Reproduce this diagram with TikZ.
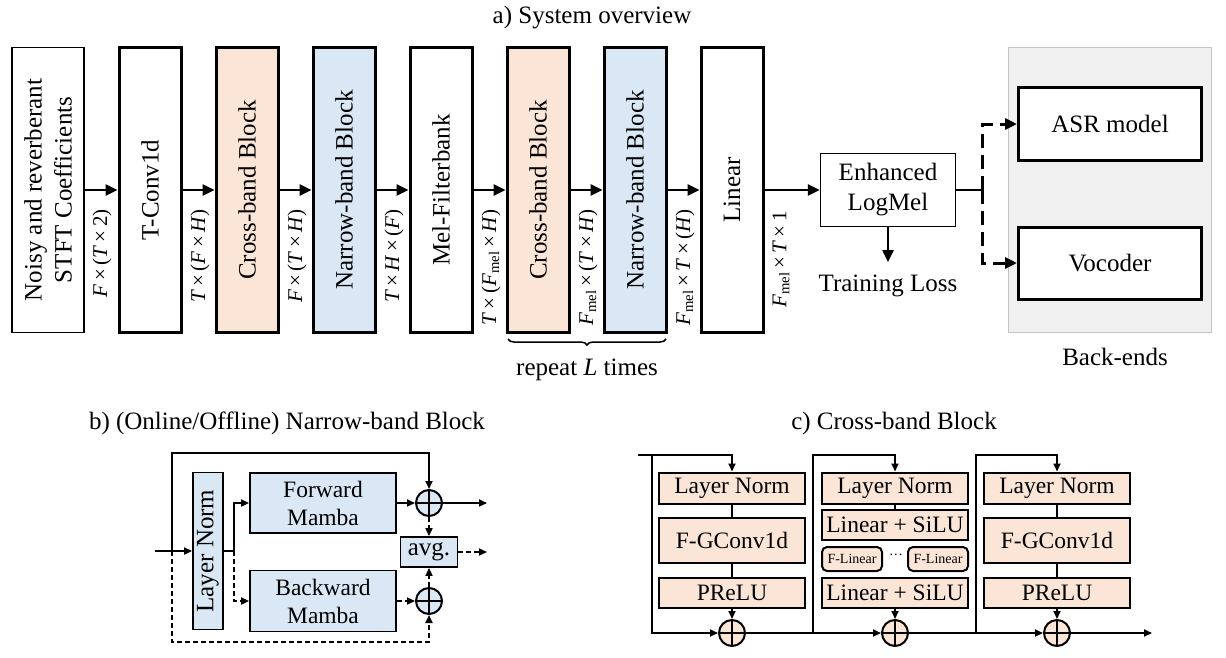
\documentclass[tikz,border=0pt]{standalone}
\usepackage{fontspec}
\setmainfont{Liberation Serif}
\usetikzlibrary{arrows.meta,decorations.pathreplacing}
\definecolor{peach}{HTML}{FBE5D6}
\definecolor{paleblue}{HTML}{DAE8F5}
\definecolor{backgray}{HTML}{F0F0F0}
\definecolor{edgegray}{HTML}{C4C4C4}
\newcommand{\mainsz}{\fontsize{25}{30}\selectfont}
\newcommand{\dimsz}{\fontsize{21}{25}\selectfont}
\newcommand{\blocksz}{\fontsize{23.5}{28}\selectfont}
\newcommand{\smallsz}{\fontsize{14}{16}\selectfont}
\newcommand{\Fmel}{\textit{F}\textsubscript{mel}}
\tikzset{
  stage/.style={draw, line width=3pt, rotate=90, minimum width=285pt,
    minimum height=62pt, inner sep=0pt, font=\mainsz},
  dimlabel/.style={rotate=90, anchor=east, inner sep=0pt, font=\dimsz},
  flow/.style={line width=2.5pt, -{Triangle[length=12pt,width=11pt]}},
  link/.style={line width=1.8pt, -{Triangle[length=8pt,width=7pt]}},
  bbox/.style={draw, line width=1.8pt, fill=paleblue, inner sep=0pt,
    align=center, font=\blocksz},
  cbox/.style={draw, line width=2pt, fill=peach, inner sep=0pt,
    minimum width=146pt, font=\blocksz},
  adder/.style={circle, draw, line width=2pt, minimum size=26pt, inner sep=0pt,
    path picture={\draw[line width=1.8pt]
      (path picture bounding box.north) -- (path picture bounding box.south)
      (path picture bounding box.west) -- (path picture bounding box.east);}},
  dashy/.style={dash pattern=on 5pt off 3pt},
}
\begin{document}
\begin{tikzpicture}[x=1pt,y=-1pt]
  \useasboundingbox (0,0) rectangle (1226,657);

  \node[font=\mainsz] (titlea) at (592,18) {a) System overview};
  \node[stage, line width=1.5pt, minimum height=72pt, align=center] (input) at (48,190)
    {Noisy and reverberant\\STFT Coefficients};
  \node[stage] (tconv) at (150,190) {T-Conv1d};
  \node[stage, fill=peach] (cross1) at (247,190) {Cross-band Block};
  \node[stage, fill=paleblue] (narrow1) at (344,190) {Narrow-band Block};
  \node[stage] (melfb) at (441,190) {Mel-Filterbank};
  \node[stage, fill=peach] (cross2) at (538,190) {Cross-band Block};
  \node[stage, fill=paleblue] (narrow2) at (635,190) {Narrow-band Block};
  \node[stage] (linear) at (732,190) {Linear};

  \node[dimlabel] (dim1) at (102,209) {\textit{F}\,×\,(\textit{T}\,×\,2)};
  \node[dimlabel] (dim2) at (200,209) {\textit{T}\,×\,(\textit{F}\,×\,\textit{H})};
  \node[dimlabel] (dim3) at (297,209) {\textit{F}\,×\,(\textit{T}\,×\,\textit{H})};
  \node[dimlabel] (dim4) at (394,209) {\textit{T}\,×\,\textit{H}\,×\,(\textit{F})};
  \node[dimlabel] (dim5) at (491,209) {\textit{T}\,×\,(\Fmel\,×\,\textit{H})};
  \node[dimlabel] (dim6) at (588,209) {\Fmel\,×\,(\textit{T}\,×\,\textit{H})};
  \node[dimlabel] (dim7) at (685,209) {\Fmel\,×\,\textit{T}\,×\,(\textit{H})};
  \node[dimlabel] (dim8) at (781,211) {\Fmel\,×\,\textit{T}\,×\,1};

  \node[draw, line width=1.5pt, minimum width=135pt, minimum height=73pt, inner sep=0pt,
    align=center, font=\mainsz] (logmel) at (888,190) {Enhanced\\LogMel};
  \node[font=\mainsz, anchor=north, inner sep=0pt] (loss) at (888,275) {Training Loss};

  \node[draw=edgegray, fill=backgray, line width=1.5pt, minimum width=203pt,
    minimum height=285pt] (backends) at (1110,190) {};
  \node[font=\mainsz] (backlabel) at (1115,357) {Back-ends};
  \node[draw, fill=white, line width=3pt, minimum width=183pt, minimum height=73pt,
    font=\mainsz] (asr) at (1110,124) {ASR model};
  \node[draw, fill=white, line width=3pt, minimum width=183pt, minimum height=72pt,
    font=\mainsz] (vocoder) at (1110,263) {Vocoder};
  \coordinate (split) at (982,190);

  \begin{scope}[flow]
    \draw (input) to (tconv);
    \draw (tconv) to (cross1);
    \draw (cross1) to (narrow1);
    \draw (narrow1) to (melfb);
    \draw (melfb) to (cross2);
    \draw (cross2) to (narrow2);
    \draw (narrow2) to (linear);
    \draw (linear) to (logmel);
    \draw[shorten >=13pt] (logmel) to (loss);
    \draw[line width=3pt, dash pattern=on 14pt off 7pt] (split) |- (asr);
    \draw[line width=3pt, dash pattern=on 14pt off 7pt] (split) |- (vocoder);
  \end{scope}
  \draw[line width=2.5pt] (logmel) -- (split);

  \draw[line width=1.5pt, decorate, decoration={brace, mirror, amplitude=6pt}]
    (508,339) -- (666,339);
  \node[font=\mainsz] (repeat) at (587,370) {repeat \textit{L} times};

  \node[font=\mainsz] (titleb) at (287,423) {b) (Online/Offline) Narrow-band Block};
  \node[bbox, rotate=90, minimum width=157pt, minimum height=30pt, font=\mainsz] (lnb)
    at (208,551) {Layer Norm};
  \node[bbox, minimum width=146pt, minimum height=60pt] (fwd) at (323,503) {Forward\\Mamba};
  \node[bbox, minimum width=146pt, minimum height=61pt] (bwd) at (323,601) {Backward\\Mamba};
  \node[adder, fill=paleblue] (addf) at (429,503) {};
  \node[adder, fill=paleblue] (addb) at (429,601) {};
  \node[bbox, minimum width=57pt, minimum height=30pt, font=\mainsz] (avg) at (429,552) {avg.};
  \coordinate (bin) at (155,551);
  \coordinate (bsplit) at (172,551);
  \coordinate (btop) at (172,453);
  \coordinate (bbot) at (172,642);
  \coordinate (bfork) at (234,551);
  \coordinate (boutf) at (487,503);
  \coordinate (bouta) at (487,552);

  \begin{scope}[link]
    \draw (bin) -- (lnb);
    \draw (bsplit) -- (btop) -| (addf);
    \draw[dashy] (bsplit) -- (bbot) -| (addb);
    \draw (bfork) |- (fwd);
    \draw[dashy] (bfork) |- (bwd);
    \draw (fwd) -- (addf);
    \draw[dashy] (bwd) -- (addb);
    \draw (addf) -- (boutf);
    \draw[dashy] (addf) -- (avg);
    \draw[dashy] (addb) -- (avg);
    \draw[dashy] (avg) -- (bouta);
  \end{scope}
  \draw[line width=1.8pt] (lnb) -- (bfork);

  \node[font=\mainsz] (titlec) at (894,423) {c) Cross-band Block};
  \node[cbox, minimum height=31pt] (cln1) at (732,488) {Layer Norm};
  \node[cbox, minimum height=45pt] (cconv1) at (732,540) {F-GConv1d};
  \node[cbox, minimum height=30pt] (cact1) at (732,593) {PReLU};
  \node[adder, fill=peach] (cadd1) at (732,633) {};

  \node[cbox, minimum height=31pt] (cln2) at (895,488) {Layer Norm};
  \node[cbox, minimum height=30pt] (clin2a) at (895,525) {Linear + SiLU};
  \node[cbox, rounded corners=5pt, minimum width=60pt, minimum height=24pt,
    font=\smallsz] (cfl1) at (852,559) {F-Linear};
  \node[inner sep=0pt, font=\smallsz] (cdots) at (896,557) {···};
  \node[cbox, rounded corners=5pt, minimum width=60pt, minimum height=24pt,
    font=\smallsz] (cfl2) at (938,559) {F-Linear};
  \node[cbox, minimum height=30pt] (clin2b) at (895,593) {Linear + SiLU};
  \node[adder, fill=peach] (cadd2) at (895,633) {};

  \node[cbox, minimum height=31pt] (cln3) at (1057,488) {Layer Norm};
  \node[cbox, minimum height=45pt] (cconv3) at (1057,540) {F-GConv1d};
  \node[cbox, minimum height=30pt] (cact3) at (1057,593) {PReLU};
  \node[adder, fill=peach] (cadd3) at (1057,633) {};

  \coordinate (cin) at (638,455);
  \coordinate (csplit1) at (652,455);
  \coordinate (csplit2) at (813,633);
  \coordinate (ctop2) at (813,455);
  \coordinate (csplit3) at (976,633);
  \coordinate (ctop3) at (976,455);
  \coordinate (cout) at (1152,633);

  \begin{scope}[line width=1.8pt]
    \draw (cln1) -- (cconv1) -- (cact1);
    \draw (cln2) -- (clin2a);
    \draw (cln3) -- (cconv3) -- (cact3);
    \draw (cadd1) -- (csplit2);
    \draw (cadd2) -- (csplit3);
  \end{scope}
  \begin{scope}[link]
    \draw (cin) -- (csplit1) -| (cln1);
    \draw (csplit1) |- (cadd1);
    \draw (cact1) -- (cadd1);
    \draw (csplit2) -- (ctop2) -| (cln2);
    \draw (csplit2) -- (cadd2);
    \draw (clin2b) -- (cadd2);
    \draw (csplit3) -- (ctop3) -| (cln3);
    \draw (csplit3) -- (cadd3);
    \draw (cact3) -- (cadd3);
    \draw (cadd3) -- (cout);
  \end{scope}
\end{tikzpicture}
\end{document}
